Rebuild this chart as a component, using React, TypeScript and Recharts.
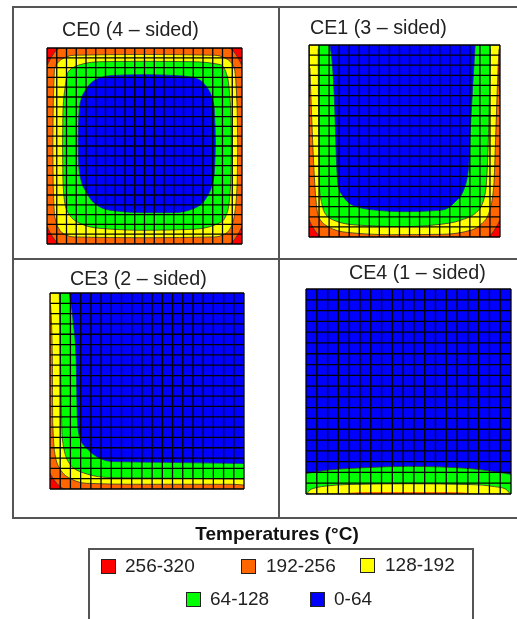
import React from "react";
import { ComposedChart, Area, XAxis, YAxis, ReferenceLine } from "recharts";

type Row = [number, number, number];

const RED = "#ff0000";
const ORANGE = "#ff6600";
const YELLOW = "#ffff00";
const GREEN = "#00ff00";
const BLUE = "#0000ff";

const wholeSquare: Row[] = [[0, 0, 100], [100, 0, 100]];

// CE0: [x %, lower edge %, upper edge %]
const ce0Orange: Row[] = [[0, 9, 91], [3, 3.5, 96.5], [7, 0, 100], [93, 0, 100], [97, 3.5, 96.5], [100, 9, 91]];
const ce0Yellow: Row[] = [[3, 50, 50], [3.2, 30, 70], [4, 14, 90], [6, 8, 93], [9, 5, 95], [14, 3.6, 96.3], [50, 3.2, 96.7], [86, 3.6, 96.3], [91, 5, 95], [94, 8, 93], [96, 14, 90], [97.5, 30, 70], [97.8, 50, 50]];
const ce0Green: Row[] = [[8, 50, 50], [8.2, 32, 68], [9.3, 20, 80], [11, 15.7, 88], [17, 10.5, 91.5], [27, 8, 93], [50, 7, 93.2], [75, 7.5, 93], [89, 11, 91.5], [92, 15, 87], [93.5, 22, 78], [94.3, 35, 65], [94.5, 50, 50]];
const ce0Blue: Row[] = [[16, 52, 52], [16.2, 42, 62], [17, 34.4, 72], [20.5, 25.9, 79.5], [27, 19, 84.7], [34, 17, 86], [50, 16, 86.4], [65, 16, 86], [75, 18, 85], [82, 24, 80], [85.5, 34, 71], [86.2, 44, 60], [86.4, 52, 52]];

// CE1
const ce1Orange: Row[] = [[0, 9, 72], [3, 3.5, 100], [7, 0, 100], [93, 0, 100], [97, 3.5, 100], [100, 9, 72]];
const ce1Yellow: Row[] = [[0.5, 88, 100], [1.5, 60, 100], [3, 28, 100], [5, 10.6, 100], [10, 5.4, 100], [20, 2.4, 100], [43, 1.2, 100], [70, 1.4, 100], [85, 3.6, 100], [90.5, 7, 100], [94, 12, 100], [96.7, 26, 100], [98, 60, 100], [99, 88, 100], [99.5, 98, 100]];
const ce1Green: Row[] = [[4.8, 98, 100], [5.2, 40, 100], [5.6, 24, 100], [6.6, 18, 100], [8.4, 12.3, 100], [13.6, 8.5, 100], [24, 6.3, 100], [50, 5.4, 100], [66, 6.3, 100], [80, 8.9, 100], [88.8, 14, 100], [92.3, 23, 100], [94, 54, 100], [95, 98, 100]];
const ce1Blue: Row[] = [[11, 99.5, 100], [13.3, 72, 100], [14.5, 37, 100], [15.4, 26, 100], [18, 21, 100], [23, 16.5, 100], [34.6, 14, 100], [50, 13.2, 100], [69.6, 14, 100], [76.6, 18.4, 100], [81, 24.5, 100], [83.6, 36.5, 100], [84.4, 54, 100], [85.3, 71, 100], [87, 99.5, 100]];

// CE3
const ce3Orange: Row[] = [[0, 8, 100], [3, 3.5, 100], [8, 0, 100], [100, 0, 100]];
const ce3Yellow: Row[] = [[0.3, 94, 100], [1.2, 68, 100], [1.4, 34, 100], [2.6, 17.5, 100], [5, 10.5, 100], [11, 5.1, 100], [19, 2.9, 100], [43, 2.4, 100], [94, 2.4, 100], [100, 2, 100]];
const ce3Green: Row[] = [[4.8, 99.5, 100], [5.1, 85, 100], [5.7, 51, 100], [6.3, 26, 100], [9.4, 14, 100], [15.4, 8.9, 100], [31, 5.8, 100], [60, 5.5, 100], [100, 5.1, 100]];
const ce3Blue: Row[] = [[10, 99.5, 100], [12, 85, 100], [13.4, 68, 100], [14.2, 34, 100], [15.4, 26, 100], [19.7, 20, 100], [25.7, 15.7, 100], [32.6, 14, 100], [60, 13.6, 100], [100, 13, 100]];

// CE4
const ce4Green: Row[] = [[0, 0, 10], [5, 0, 10.8], [10, 0, 11.6], [20, 0, 12.4], [30, 0, 12.9], [50, 0, 13.5], [80, 0, 12.4], [90, 0, 11.2], [100, 0, 9.6]];
const ce4Yellow: Row[] = [[0.5, 0, 0.2], [2, 0, 2], [5, 0, 3.1], [10, 0, 3.9], [20, 0, 4.6], [50, 0, 5], [80, 0, 4.6], [92, 0, 3.6], [97, 0, 2.6], [99.5, 0, 0.2]];
const ce4Orange: Row[] = [[20, 0, 0.5], [30, 0, 1], [70, 0, 1], [80, 0, 0.5]];

const cells19 = [0, 1, 2, 3, 4, 5, 6, 7, 8, 9, 10, 11, 12, 13, 14, 15, 16, 17, 18, 19];
const cells20 = [0, 1, 2, 3, 4, 5, 6, 7, 8, 9, 10, 11, 12, 13, 14, 15, 16, 17, 18, 19, 20];

const titles = ["CE0 (4 – sided)", "CE1 (3 – sided)", "CE3 (2 – sided)", "CE4 (1 – sided)"];
const legendLabels = ["256-320", "192-256", "128-192", "64-128", "0-64"];
const legendColors = [RED, ORANGE, YELLOW, GREEN, BLUE];

const FONT = "'Liberation Sans', Arial, sans-serif";
const PAD = 2;

type Band = { rows: Row[]; fill: string; edge?: string };

function Panel({ x, y, w, h, cells, bands }: { x: number; y: number; w: number; h: number; cells: number[]; bands: Band[] }) {
  const max = cells[cells.length - 1];
  return (
    <div style={{ position: "absolute", left: x - PAD, top: y - PAD }}>
      <ComposedChart width={w + PAD * 2} height={h + PAD * 2} margin={{ top: PAD, right: PAD, bottom: PAD, left: PAD }}>
        <XAxis hide type="number" dataKey="x" domain={[0, 100]} allowDataOverflow />
        <YAxis hide type="number" domain={[0, 100]} allowDataOverflow />
        {bands.map((b, i) => (
          <Area
            key={i}
            data={b.rows.map((r) => ({ x: r[0], band: [r[1], r[2]] }))}
            dataKey="band"
            type="monotone"
            fill={b.fill}
            fillOpacity={1}
            stroke={b.edge ?? "none"}
            strokeWidth={0.8}
            dot={false}
            activeDot={false}
            isAnimationActive={false}
          />
        ))}
        {cells.map((c) => (
          <ReferenceLine key={"v" + c} x={(c * 100) / max} stroke="#000" strokeWidth={1.3} />
        ))}
        {cells.map((c) => (
          <ReferenceLine key={"h" + c} y={(c * 100) / max} stroke="#000" strokeWidth={1.3} />
        ))}
      </ComposedChart>
    </div>
  );
}

function Title({ x, base, text }: { x: number; base: number; text: string }) {
  return (
    <div style={{ position: "absolute", left: x, top: base - 18, fontFamily: FONT, fontSize: 19.7, lineHeight: "22px", color: "#222", whiteSpace: "nowrap" }}>
      {text}
    </div>
  );
}

function Line({ x, y, w, h }: { x: number; y: number; w: number; h: number }) {
  return <div style={{ position: "absolute", left: x, top: y, width: w, height: h, background: "#555" }} />;
}

function LegendItem({ sx, sy, tx, i }: { sx: number; sy: number; tx: number; i: number }) {
  return (
    <>
      <div style={{ position: "absolute", left: sx, top: sy, width: 13, height: 13, background: legendColors[i], border: "1px solid #222" }} />
      <div style={{ position: "absolute", left: tx, top: sy - 4, fontFamily: FONT, fontSize: 19, lineHeight: "22px", color: "#222", whiteSpace: "nowrap" }}>
        {legendLabels[i]}
      </div>
    </>
  );
}

export default function App() {
  return (
    <div style={{ position: "absolute", left: 0, top: 0, width: 517, height: 619, overflow: "hidden", background: "#fff", filter: "blur(0.35px)" }}>
      <Line x={12} y={6} w={505} h={2} />
      <Line x={12} y={6} w={2} h={512} />
      <Line x={12} y={258} w={505} h={2} />
      <Line x={12} y={517} w={505} h={2} />
      <Line x={278} y={6} w={2} h={512} />

      <Title x={62} base={36} text={titles[0]} />
      <Title x={310} base={34} text={titles[1]} />
      <Title x={70} base={285} text={titles[2]} />
      <Title x={349} base={279} text={titles[3]} />

      <Panel x={47} y={48} w={195} h={196} cells={cells20} bands={[
        { rows: wholeSquare, fill: RED },
        { rows: ce0Orange, fill: ORANGE, edge: "#333" },
        { rows: ce0Yellow, fill: YELLOW, edge: "#333" },
        { rows: ce0Green, fill: GREEN, edge: "#333" },
        { rows: ce0Blue, fill: BLUE, edge: "#222a88" },
      ]} />
      <Panel x={309} y={45} w={191} h={192} cells={cells19} bands={[
        { rows: wholeSquare, fill: RED },
        { rows: ce1Orange, fill: ORANGE, edge: "#333" },
        { rows: ce1Yellow, fill: YELLOW, edge: "#333" },
        { rows: ce1Green, fill: GREEN, edge: "#333" },
        { rows: ce1Blue, fill: BLUE, edge: "#222a88" },
      ]} />
      <Panel x={50} y={293} w={194} h={196} cells={cells19} bands={[
        { rows: wholeSquare, fill: RED },
        { rows: ce3Orange, fill: ORANGE, edge: "#333" },
        { rows: ce3Yellow, fill: YELLOW, edge: "#333" },
        { rows: ce3Green, fill: GREEN, edge: "#333" },
        { rows: ce3Blue, fill: BLUE, edge: "#222a88" },
      ]} />
      <Panel x={306} y={289} w={205} h={205} cells={cells19} bands={[
        { rows: wholeSquare, fill: BLUE },
        { rows: ce4Green, fill: GREEN, edge: "#333" },
        { rows: ce4Yellow, fill: YELLOW, edge: "#333" },
        { rows: ce4Orange, fill: ORANGE },
      ]} />

      <div style={{ position: "absolute", left: 60, width: 434, textAlign: "center", top: 523, fontFamily: FONT, fontWeight: 700, fontSize: 19, lineHeight: "22px", color: "#111" }}>
        Temperatures (°C)
      </div>
      <div style={{ position: "absolute", left: 88, top: 548, width: 382, height: 90, border: "2px solid #555" }} />
      <LegendItem sx={101} sy={559} tx={125} i={0} />
      <LegendItem sx={241} sy={559} tx={266} i={1} />
      <LegendItem sx={360} sy={558} tx={385} i={2} />
      <LegendItem sx={186} sy={592} tx={210} i={3} />
      <LegendItem sx={310} sy={592} tx={334} i={4} />
    </div>
  );
}
